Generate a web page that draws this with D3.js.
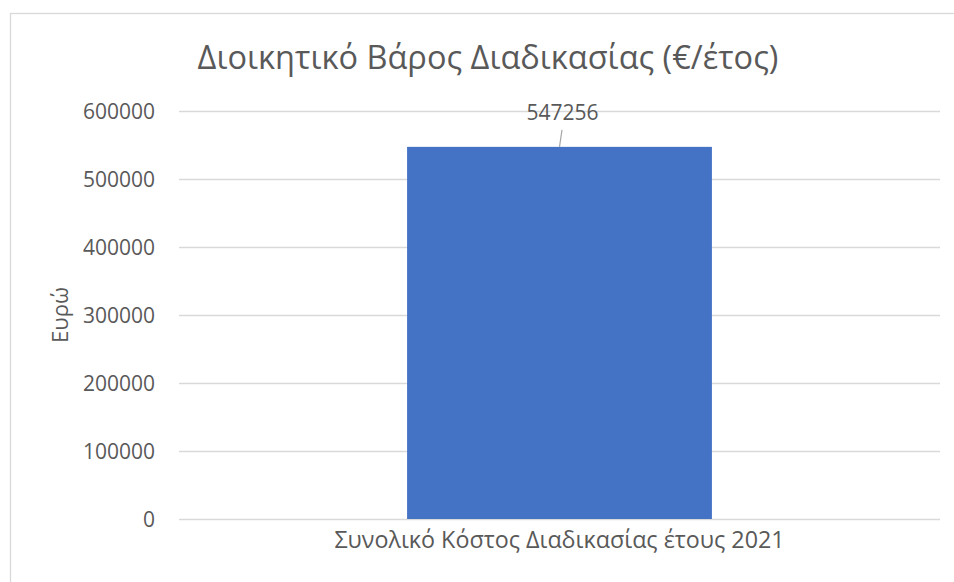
<!DOCTYPE html>
<html>
<head>
<meta charset="utf-8">
<script src="https://cdn.jsdelivr.net/npm/d3@7"></script>
<style>
  html, body { margin: 0; padding: 0; background: #fff; }
  svg { display: block; }
  text { font-family: "Open Sans", "Noto Sans", sans-serif; fill: #595959; }
</style>
</head>
<body>
<div id="chart"></div>
<script>
const title = "Διοικητικό Βάρος Διαδικασίας (€/έτος)";
const yAxisTitle = "Ευρώ";
const categories = ["Συνολικό Κόστος Διαδικασίας έτους 2021"];
const values = [547256];
const yTicks = [0, 100000, 200000, 300000, 400000, 500000, 600000];

const W = 954, H = 582;
const svg = d3.select("#chart").append("svg").attr("width", W).attr("height", H);

// chart frame
svg.append("rect")
  .attr("x", 10.5).attr("y", 13.5)
  .attr("width", 980).attr("height", 620)
  .attr("fill", "none").attr("stroke", "#d9d9d9").attr("stroke-width", 1.3);

const plotLeft = 179, plotRight = 940, plotTop = 111, plotBottom = 519;

const y = d3.scaleLinear().domain([0, 600000]).range([plotBottom, plotTop]);
const x = d3.scaleBand().domain(categories).range([plotLeft, plotRight])
  .paddingInner(0.428).paddingOuter(0.428);

// gridlines
svg.append("g").selectAll("line").data(yTicks).join("line")
  .attr("x1", plotLeft).attr("x2", plotRight)
  .attr("y1", d => Math.round(y(d)) + 0.5).attr("y2", d => Math.round(y(d)) + 0.5)
  .attr("stroke", "#d9d9d9").attr("stroke-width", 1.3);

// y axis labels
const yAxis = d3.axisLeft(y).tickValues(yTicks).tickSize(0).tickPadding(0).tickFormat(d3.format("d"));
const gy = svg.append("g").attr("transform", `translate(155,0)`).call(yAxis);
gy.select(".domain").remove();
gy.selectAll("text").style("font-size", "21px").attr("fill", "#595959")
  .style("font-family", '"Open Sans", sans-serif').attr("dy", "0.36em");

// bars
svg.append("g").selectAll("rect").data(values).join("rect")
  .attr("x", (d, i) => x(categories[i]))
  .attr("width", x.bandwidth())
  .attr("y", d => y(d))
  .attr("height", d => y(0) - y(d))
  .attr("fill", "#4472C4");

// x axis labels
const xAxis = d3.axisBottom(x).tickSize(0).tickPadding(0);
const gx = svg.append("g").attr("transform", `translate(0,${plotBottom})`).call(xAxis);
gx.select(".domain").remove();
gx.selectAll("text").style("font-size", "23.3px").attr("fill", "#595959")
  .style("font-family", '"Open Sans", sans-serif').attr("dy", null).attr("y", 29);

// data labels with leader line
const lbl = svg.append("g");
values.forEach((v, i) => {
  const cx = x(categories[i]) + x.bandwidth() / 2;
  lbl.append("line")
    .attr("x1", cx + 2.5).attr("y1", y(v) - 17)
    .attr("x2", cx).attr("y2", y(v))
    .attr("stroke", "#a6a6a6").attr("stroke-width", 1.2);
  lbl.append("text")
    .attr("x", cx + 3).attr("y", y(v) - 27)
    .attr("text-anchor", "middle")
    .style("font-size", "21px")
    .text(d3.format("d")(v));
});

// title
svg.append("text")
  .attr("x", 488).attr("y", 69)
  .attr("text-anchor", "middle")
  .style("font-size", "32.5px")
  .text(title);

// y axis title
svg.append("text")
  .attr("transform", `translate(68,315) rotate(-90)`)
  .attr("text-anchor", "middle")
  .style("font-size", "22px")
  .text(yAxisTitle);
</script>
</body>
</html>
